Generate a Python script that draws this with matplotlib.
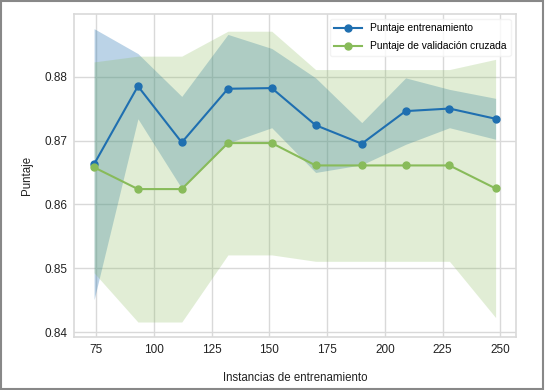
import numpy as np
import matplotlib
matplotlib.use('Agg')
import matplotlib.pyplot as plt
from matplotlib.patches import Rectangle

plt.rcParams['font.family'] = ['Liberation Sans', 'DejaVu Sans']

# training set sizes and cross-validated scores
train_sizes = [74, 93, 112, 132, 151, 170, 190, 209, 228, 248]
train_mean = [0.8663, 0.8785, 0.8697, 0.8781, 0.8782, 0.8724, 0.8695, 0.8746, 0.8750, 0.8734]
train_std = [0.0212, 0.0051, 0.0072, 0.0085, 0.0062, 0.0074, 0.0033, 0.0052, 0.0030, 0.0032]
test_mean = [0.8658, 0.8624, 0.8624, 0.8696, 0.8696, 0.8661, 0.8661, 0.8661, 0.8661, 0.8625]
test_std = [0.0165, 0.0208, 0.0208, 0.0175, 0.0175, 0.0150, 0.0150, 0.0150, 0.0150, 0.0202]

blue = '#1f6fb0'
green = '#88bb5a'

fig = plt.figure(figsize=(5.45, 3.9), dpi=100)
ax = fig.add_axes([0.1358, 0.1367, 0.8104, 0.8274])

x = np.array(train_sizes)
tm, ts = np.array(train_mean), np.array(train_std)
vm, vs = np.array(test_mean), np.array(test_std)

ax.fill_between(x, tm - ts, tm + ts, color=blue, alpha=0.3, lw=0)
ax.fill_between(x, vm - vs, vm + vs, color=green, alpha=0.25, lw=0)
ax.plot(x, tm, 'o-', color=blue, lw=1.5, ms=5, label='Puntaje entrenamiento')
ax.plot(x, vm, 'o-', color=green, lw=1.5, ms=5, label='Puntaje de validación cruzada')

ax.set_xticks([75, 100, 125, 150, 175, 200, 225, 250])
ax.set_yticks([0.84, 0.85, 0.86, 0.87, 0.88])
ax.grid(True, color='#d9d9d9', lw=1)
ax.set_axisbelow(True)
for s in ax.spines.values():
    s.set_color('#d9d9d9')
    s.set_linewidth(1.2)
ax.tick_params(length=0, labelsize=8.5, colors='#222222', pad=5)

ax.set_xlabel('Instancias de entrenamiento', fontsize=8.3, color='#222222', labelpad=12)
ax.set_ylabel('Puntaje', fontsize=8.3, color='#222222', labelpad=8)

leg = ax.legend(loc='upper right', fontsize=7.4, frameon=True, borderaxespad=0.5,
                handlelength=2.7, labelspacing=0.8)
leg.get_frame().set_edgecolor('#f0f0f0')
leg.get_frame().set_facecolor('white')
leg.get_frame().set_alpha(0.8)

# thin gray frame around the whole figure
fig.patches.append(Rectangle((0.002, 0.003), 0.995, 0.994, transform=fig.transFigure,
                             fill=False, edgecolor='#888888', lw=1.5))

fig.savefig('out.png', dpi=100)
